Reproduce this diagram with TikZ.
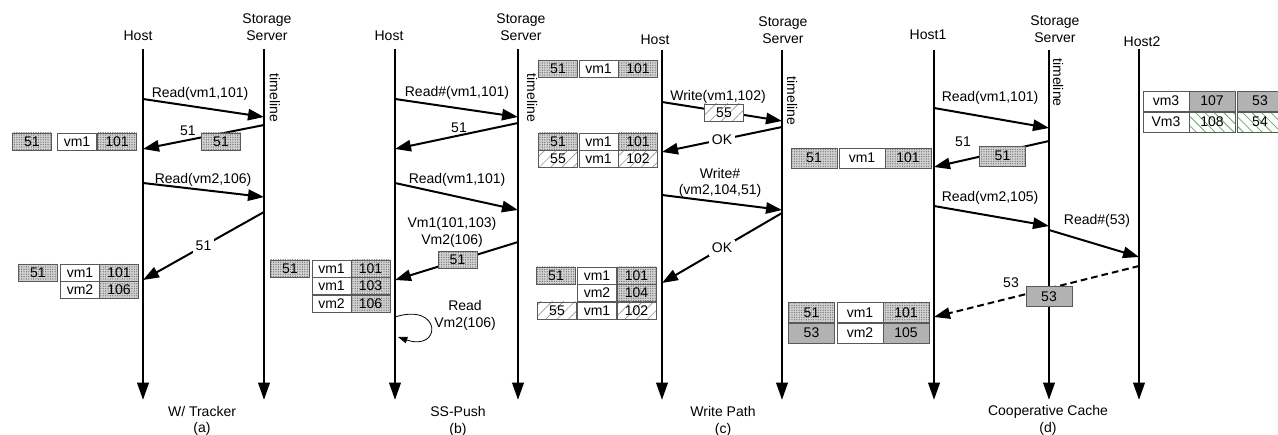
\documentclass[tikz,border=0pt]{standalone}
\usepackage{fontspec}
\setmainfont{Liberation Sans}
\usetikzlibrary{arrows.meta,patterns.meta}

\begin{document}
\begin{tikzpicture}[
    x=0.75pt, y=-0.75pt,
    font=\fontsize{10.5}{12.5}\selectfont,
    life/.style={line width=2pt, -{Triangle[length=13pt,width=8.5pt]}},
    msg/.style={line width=1.5pt, -{Triangle[length=12pt,width=8.5pt]}},
    gap/.style={fill=white, inner sep=2pt},
    cell/.style={draw=black!65, minimum width=29.5pt, minimum height=13pt, inner sep=0pt},
    big/.style={minimum width=34.5pt, minimum height=15pt},
    dcell/.style={cell, preaction={fill=gray!35}, pattern={Dots[distance=1.8pt, radius=0.5pt]}, pattern color=black!55},
    hcell/.style={cell, preaction={fill=white}, pattern={Lines[angle=45, distance=6pt, line width=0.5pt]}, pattern color=gray!80},
    gcell/.style={cell, fill=gray!60},
    ccell/.style={cell, preaction={fill=white}, pattern={Lines[angle=-45, distance=5pt, line width=0.6pt]}, pattern color=green!45!black!60}
]
    \useasboundingbox (0,0) rectangle (1278,435);

    % (a) W/ Tracker
    \node (ha) at (138,36) {Host};
    \node[align=center] (sa) at (267,27) {Storage\\Server};
    \coordinate (ha0) at (143,49);  \coordinate (ha1) at (143,400);
    \coordinate (sa0) at (264,49);  \coordinate (sa1) at (264,400);
    \draw[life] (ha0) -- (ha1);
    \draw[life] (sa0) -- (sa1);
    \node[rotate=-90] (tla) at (275,98) {timeline};

    \coordinate (a1h) at (143,99);  \coordinate (a1s) at (264,117);
    \coordinate (a2s) at (264,125); \coordinate (a2h) at (143,149);
    \coordinate (a3h) at (143,183); \coordinate (a3s) at (264,197);
    \coordinate (a4s) at (264,212); \coordinate (a4h) at (143,280);
    \draw[msg] (a1h) -- (a1s);
    \draw[msg] (a2s) -- (a2h);
    \draw[msg] (a3h) -- (a3s);
    \draw[msg] (a4s) -- node[gap] (la4) {51} (a4h);
    \node (la1) at (200,94) {Read(vm1,101)};
    \node (la2) at (188,131) {51};
    \node (la3) at (203,180) {Read(vm2,106)};
    \node[dcell] (ba2) at (221,141.5) {51};

    \node[dcell] (ta1-1) at (32,141.5) {51};
    \node[cell]  (ta1-2) at (77,141.5) {vm1};
    \node[dcell] (ta1-3) at (117,141.5) {101};
    \node[dcell] (ta2-1) at (38,272.5) {51};
    \node[cell]  (ta2-2) at (80,272.5) {vm1};
    \node[dcell] (ta2-3) at (119,272.5) {101};
    \node[cell]  (ta2-4) at (80,290) {vm2};
    \node[dcell] (ta2-5) at (119,290) {106};
    \node[align=center] (capa) at (202,421) {W/ Tracker\\(a)};

    % (b) SS-Push
    \node (hb) at (389,36) {Host};
    \node[align=center] (sb) at (521,27) {Storage\\Server};
    \coordinate (hb0) at (395,49);  \coordinate (hb1) at (395,400);
    \coordinate (sb0) at (518,49);  \coordinate (sb1) at (518,400);
    \draw[life] (hb0) -- (hb1);
    \draw[life] (sb0) -- (sb1);
    \node[rotate=-90] (tlb) at (532,98) {timeline};

    \coordinate (b1h) at (395,99);  \coordinate (b1s) at (518,117);
    \coordinate (b2s) at (518,123); \coordinate (b2h) at (395,149);
    \coordinate (b3h) at (395,183); \coordinate (b3s) at (518,210);
    \coordinate (b4s) at (518,242); \coordinate (b4h) at (395,280);
    \coordinate (bl0) at (395,317); \coordinate (bl1) at (398,337);
    \draw[msg] (b1h) -- (b1s);
    \draw[msg] (b2s) -- (b2h);
    \draw[msg] (b3h) -- (b3s);
    \draw[msg] (b4s) -- (b4h);
    \draw[line width=0.6pt, -{Triangle[length=7pt,width=5pt]}] (bl0) .. controls (442,302) and (442,352) .. (bl1);
    \node (lb1) at (457,93) {Read\#(vm1,101)};
    \node (lb2) at (459,128) {51};
    \node (lb3) at (457,180) {Read(vm1,101)};
    \node[align=center] (lb4) at (452,232.5) {Vm1(101,103)\\Vm2(106)};
    \node[align=center] (lbl) at (465,315.5) {Read\\Vm2(106)};
    \node[dcell] (bb4) at (457.5,260) {51};

    \node[dcell] (tb1-1) at (290,268.5) {51};
    \node[cell]  (tb1-2) at (331.5,268.5) {vm1};
    \node[dcell] (tb1-3) at (370.5,268.5) {101};
    \node[cell]  (tb1-4) at (331.5,286) {vm1};
    \node[dcell] (tb1-5) at (370.5,286) {103};
    \node[cell]  (tb1-6) at (331.5,303.5) {vm2};
    \node[dcell] (tb1-7) at (370.5,303.5) {106};
    \node[align=center] (capb) at (458,421.5) {SS-Push\\(b)};

    % (c) Write Path
    \node (hc) at (655,40) {Host};
    \node[align=center] (sc) at (783,30) {Storage\\Server};
    \coordinate (hc0) at (662,50);  \coordinate (hc1) at (662,400);
    \coordinate (sc0) at (782,50);  \coordinate (sc1) at (782,400);
    \draw[life] (hc0) -- (hc1);
    \draw[life] (sc0) -- (sc1);
    \node[rotate=-90] (tlc) at (792,101) {timeline};

    \coordinate (c1h) at (662,102); \coordinate (c1s) at (782,121);
    \coordinate (c2s) at (782,127); \coordinate (c2h) at (662,152);
    \coordinate (c3h) at (662,195); \coordinate (c3s) at (782,210);
    \coordinate (c4s) at (782,213); \coordinate (c4h) at (662,283);
    \draw[msg] (c1h) -- (c1s);
    \draw[msg] (c2s) -- node[gap] (lc2) {OK} (c2h);
    \draw[msg] (c3h) -- (c3s);
    \draw[msg] (c4s) -- node[gap] (lc4) {OK} (c4h);
    \node (lc1) at (718,97) {Write(vm1,102)};
    \node[align=center] (lc3) at (720,183) {Write\#\\(vm2,104,51)};
    \node[hcell] (bc1) at (724,112.5) {55};

    \node[dcell] (tc1-1) at (558,69) {51};
    \node[cell]  (tc1-2) at (598.5,69) {vm1};
    \node[dcell] (tc1-3) at (638,69) {101};
    \node[dcell] (tc2-1) at (558,141.5) {51};
    \node[cell]  (tc2-2) at (598.5,141.5) {vm1};
    \node[dcell] (tc2-3) at (638,141.5) {101};
    \node[hcell] (tc2-4) at (558,159) {55};
    \node[cell]  (tc2-5) at (598.5,159) {vm1};
    \node[hcell] (tc2-6) at (638,159) {102};
    \node[dcell] (tc3-1) at (556,275.5) {51};
    \node[cell]  (tc3-2) at (597,275.5) {vm1};
    \node[dcell] (tc3-3) at (636.5,275.5) {101};
    \node[cell]  (tc3-4) at (597,293) {vm2};
    \node[dcell] (tc3-5) at (636.5,293) {104};
    \node[hcell] (tc3-6) at (557,310.5) {55};
    \node[cell]  (tc3-7) at (597,310.5) {vm1};
    \node[hcell] (tc3-8) at (636.5,310.5) {102};
    \node[align=center] (capc) at (723,421.5) {Write Path\\(c)};

    % (d) Cooperative Cache
    \node (hd) at (928,35) {Host1};
    \node[align=center] (sd) at (1055,29) {Storage\\Server};
    \node (he) at (1142,42) {Host2};
    \coordinate (hd0) at (934,50);  \coordinate (hd1) at (934,400);
    \coordinate (sd0) at (1049,50); \coordinate (sd1) at (1049,400);
    \coordinate (he0) at (1139,49); \coordinate (he1) at (1139,400);
    \draw[life] (hd0) -- (hd1);
    \draw[life] (sd0) -- (sd1);
    \draw[life] (he0) -- (he1);
    \node[rotate=-90] (tld) at (1058,82.5) {timeline};

    \coordinate (d1h) at (934,108);  \coordinate (d1s) at (1049,128);
    \coordinate (d2s) at (1049,141); \coordinate (d2h) at (934,167);
    \coordinate (d3h) at (934,206);  \coordinate (d3s) at (1049,226);
    \coordinate (d4s) at (1049,230); \coordinate (d4e) at (1139,257);
    \coordinate (d5e) at (1139,266); \coordinate (d5h) at (934,317);
    \draw[msg] (d1h) -- (d1s);
    \draw[msg] (d2s) -- (d2h);
    \draw[msg] (d3h) -- (d3s);
    \draw[msg] (d4s) -- (d4e);
    \draw[msg, dash pattern=on 5pt off 3pt] (d5e) -- (d5h);
    \node (ld1) at (990,98) {Read(vm1,101)};
    \node (ld2) at (963,142) {51};
    \node (ld3) at (990,198) {Read(vm2,105)};
    \node (ld4) at (1097,221) {Read\#(53)};
    \node (ld5) at (1011,283) {53};
    \node[dcell, big] (bd2) at (1002.5,156) {51};
    \node[gcell, big] (bd5) at (1049,296.5) {53};

    \node[dcell, big] (td1-1) at (814,158) {51};
    \node[cell, big]  (td1-2) at (862,158) {vm1};
    \node[dcell, big] (td1-3) at (908,158) {101};
    \node[dcell, big] (td2-1) at (811.5,312.5) {51};
    \node[cell, big]  (td2-2) at (860,312.5) {vm1};
    \node[dcell, big] (td2-3) at (906,312.5) {101};
    \node[gcell, big] (td2-4) at (811.5,333) {53};
    \node[cell, big]  (td2-5) at (860,333) {vm2};
    \node[gcell, big] (td2-6) at (906,333) {105};

    \node[cell, big]  (te1-1) at (1166,101) {vm3};
    \node[gcell, big] (te1-2) at (1212,101) {107};
    \node[gcell, big] (te1-3) at (1260,101) {53};
    \node[cell, big]  (te1-4) at (1166,122) {Vm3};
    \node[ccell, big] (te1-5) at (1212,122) {108};
    \node[ccell, big] (te1-6) at (1260,122) {54};
    \node[align=center] (capd) at (1048,420.5) {Cooperative Cache\\(d)};
\end{tikzpicture}
\end{document}
